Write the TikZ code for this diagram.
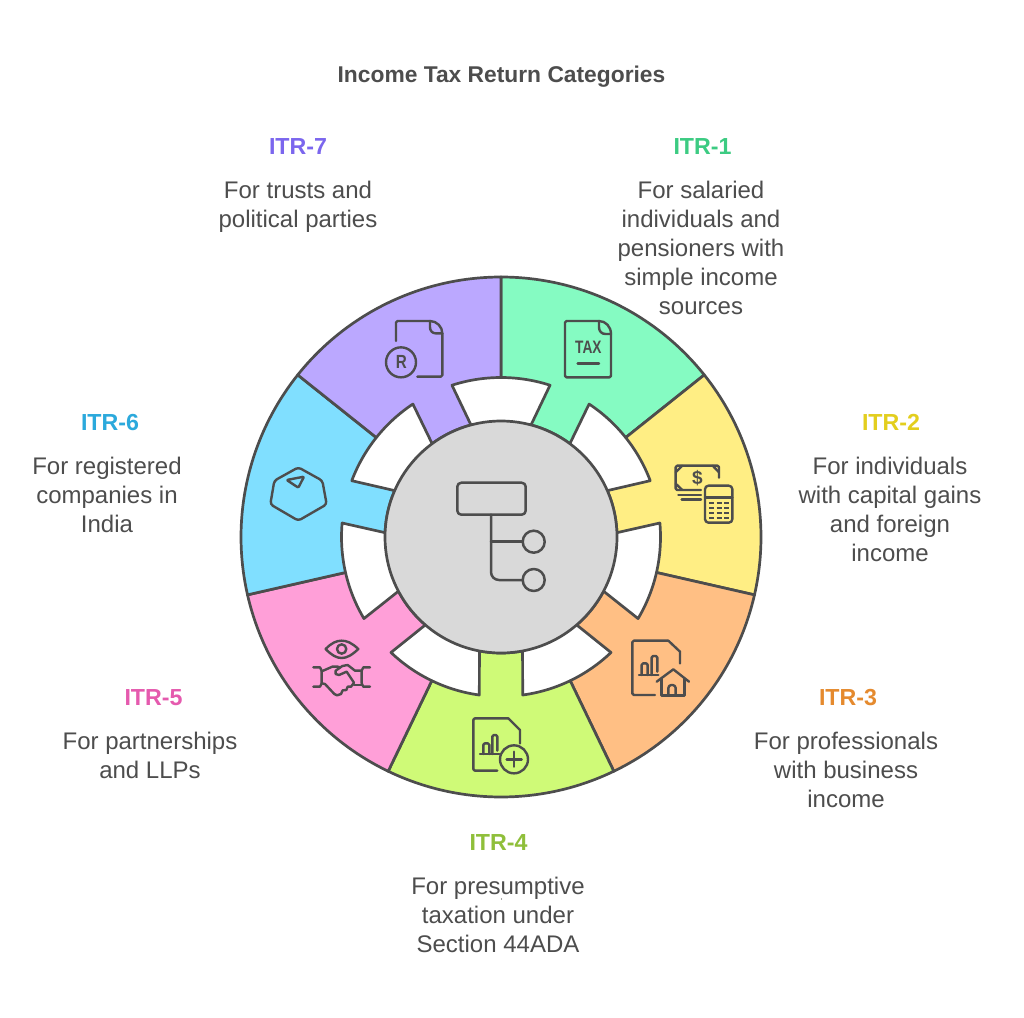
\documentclass[tikz,border=0pt]{standalone}
\usepackage{graphicx}
\usepackage{fontspec}
\setmainfont{Liberation Sans}
\definecolor{ink}{HTML}{4D4D4D}
\definecolor{centre}{HTML}{D9D9D9}
\definecolor{fa}{HTML}{85FBC2}
\definecolor{fb}{HTML}{FFEE84}
\definecolor{fc}{HTML}{FFBF84}
\definecolor{fd}{HTML}{CFFA77}
\definecolor{fe}{HTML}{FF9FD8}
\definecolor{ff}{HTML}{80DFFF}
\definecolor{fg}{HTML}{BBA8FF}
\definecolor{ta}{HTML}{3CCB82}
\definecolor{tb}{HTML}{E3CE1E}
\definecolor{tc}{HTML}{E58A2E}
\definecolor{td}{HTML}{8FBF3A}
\definecolor{te}{HTML}{E55AAE}
\definecolor{tf}{HTML}{2BA9DC}
\definecolor{tg}{HTML}{7B66EE}
\tikzset{
  sector/.style={draw=ink,line width=2.7pt,line join=round},
  icon/.style={draw=ink,line width=2.4pt,line cap=round,line join=round},
  thinicon/.style={draw=ink,line width=1.9pt,line cap=butt},
  desc/.style={text=ink,align=center,inner sep=0pt,font=\fontsize{24}{29}\selectfont},
  head/.style={inner sep=0pt,font=\fontsize{23.2}{29}\selectfont\bfseries},
  glyph/.style={text=ink,inner sep=0pt},
  zoomed/.style={shift={#1},scale=0.33333}
}
\begin{document}
\begin{tikzpicture}[x=1pt,y=-1pt]
\useasboundingbox (0,0) rectangle (1024,1017);
\fill[white] (0,0) rectangle (1024,1017);
\begin{scope}[shift={(501,537)},x=1pt,y=1pt]
  \foreach \i/\c in {0/fa,1/fb,2/fc,3/fd,4/fe,5/ff,6/fg}{
    \pgfmathsetmacro{\aa}{90-\i*51.42857}
    \pgfmathsetmacro{\ab}{90-(\i+1)*51.42857}
    \pgfmathsetmacro{\ac}{\aa-17.9}
    \pgfmathsetmacro{\ad}{\aa-15}
    \pgfmathsetmacro{\ae}{\ab+15}
    \pgfmathsetmacro{\af}{\ab+17.9}
    \draw[sector,fill=\c] (\aa:260) arc[start angle=\aa,end angle=\ab,radius=260]
      -- (\ab:159.5) arc[start angle=\ab,end angle=\af,radius=159.5]
      -- (\ae:116) arc[start angle=\ae,end angle=\ad,radius=116]
      -- (\ac:159.5) arc[start angle=\ac,end angle=\aa,radius=159.5] -- cycle;
  }
  \draw[sector,fill=centre] (0,0) circle[radius=116];
\end{scope}
% centre icon
\draw[icon,line width=2.5pt,rounded corners=4pt] (457.3,482.7) rectangle (525.7,514.7);
\draw[icon,line width=2.5pt,rounded corners=8pt] (491,514.7) -- (491,580) -- (522,580);
\draw[icon,line width=2.5pt] (491,541.7) -- (522,541.7);
\draw[icon,line width=2.5pt] (533.7,541.7) circle[radius=11];
\draw[icon,line width=2.5pt] (533.7,580) circle[radius=11];
% TAX
\begin{scope}[zoomed={(500,270)}]
  \draw[icon,rounded corners=1.5pt] (297,153) -- (195,153) -- (195,322) -- (333,322) -- (333,192);
  \draw[icon] (333,192) .. controls (333,170) and (317,153) .. (297,153);
  \draw[icon] (297,153) -- (297,172) .. controls (297,184) and (305,192) .. (317,192) -- (333,192);
  \draw[icon] (233,281) -- (297,281);
  \node[glyph,font=\fontsize{18}{18}\selectfont\bfseries] (taxword) at (265,233) {\scalebox{0.76}[1]{TAX}};
\end{scope}
% money and calculator
\begin{scope}[zoomed={(665,455)}]
  \draw[icon,rounded corners=1.5pt] (162,68) -- (162,32) -- (32,32) -- (32,105) -- (108,105);
  \draw[icon] (52,32) -- (32,52) (143,32) -- (162,52) (32,86) -- (52,105);
  \draw[icon] (40,120) -- (108,120) (50,134) -- (108,134);
  \node[glyph,font=\fontsize{19}{19}\selectfont\bfseries] (dollar) at (97,68) {\$};
  \draw[icon,rounded corners=3.5pt] (120,92) rectangle (202,203);
  \draw[icon] (120,127) -- (202,127);
  \foreach \yy in {143,158,173,188}{
    \foreach \xx in {132,155,177}{
      \draw[thinicon] (\xx,\yy) -- ++(15,0);
    }
  }
\end{scope}
% document with house
\begin{scope}[zoomed={(625,630)}]
  \draw[icon,rounded corners=1.5pt] (90,195) -- (22,195) -- (22,32) -- (130,32);
  \draw[icon] (130,32) -- (165,65) -- (165,100);
  \draw[icon] (42,135) -- (100,135);
  \draw[icon,rounded corners=1.5pt] (50,135) -- (50,100) -- (68,100) -- (68,135);
  \draw[icon,rounded corners=1.5pt] (80,135) -- (80,78) -- (97,78) -- (97,125);
  \draw[icon] (95,155) -- (145,118) -- (192,155);
  \draw[icon] (110,145) -- (110,197) -- (178,197) -- (178,145);
  \draw[icon,rounded corners=3pt] (130,197) -- (130,165) -- (152,165) -- (152,197);
\end{scope}
% document with plus
\begin{scope}[zoomed={(465,710)}]
  \draw[icon,rounded corners=1.5pt] (97,182) -- (25,182) -- (25,25) -- (130,25);
  \draw[icon] (130,25) -- (165,60) -- (165,100);
  \draw[icon] (45,132) -- (103,132);
  \draw[icon,rounded corners=1.5pt] (55,132) -- (55,100) -- (73,100) -- (73,132);
  \draw[icon,rounded corners=1.5pt] (82,132) -- (82,75) -- (97,75) -- (97,122);
  \draw[icon] (147,148) circle[radius=42];
  \draw[icon] (125,148) -- (170,148) (147,125) -- (147,170);
\end{scope}
% eye and handshake
\begin{scope}[zoomed={(305,630)}]
  \draw[icon] (62,57) .. controls (80,38) and (95,32) .. (110,32) .. controls (125,32) and (140,38) .. (160,57)
     .. controls (140,76) and (125,84) .. (110,84) .. controls (95,84) and (80,76) .. (62,57) -- cycle;
  \draw[icon] (110,57) circle[radius=14];
  \draw[icon] (25,112) -- (45,112) -- (50,122) -- (50,160) -- (45,170) -- (25,170);
  \draw[icon] (195,112) -- (175,112) -- (170,122) -- (170,160) -- (175,170) -- (195,170);
  \draw[icon] (50,124) -- (82,110) -- (98,110) -- (105,112);
  \draw[icon] (170,122) -- (150,122) -- (128,105) -- (112,108) -- (92,122) -- (92,132) -- (102,135) -- (125,125) -- (147,158) -- (138,170) -- (128,170) -- (124,180) -- (113,181) -- (108,192) -- (96,196) -- (88,192) -- (60,162) -- (50,160);
  \draw[icon] (147,165) -- (170,165);
\end{scope}
% hexagon
\begin{scope}[zoomed={(235,270)}]
  \draw[icon,rounded corners=3pt] (190,592) -- (262,632) -- (275,703) -- (190,752) -- (106,703) -- (118,632) -- cycle;
  \draw[icon,rounded corners=1pt] (155,630) -- (207,620) -- (190,653) -- cycle;
\end{scope}
% document with R
\begin{scope}[zoomed={(235,270)}]
  \draw[icon,rounded corners=1.5pt] (483,213) -- (483,153) -- (585,153);
  \draw[icon] (585,153) .. controls (605,153) and (622,170) .. (622,190);
  \draw[icon,rounded corners=1.5pt] (622,190) -- (622,320) -- (547,320);
  \draw[icon] (585,153) -- (585,172) .. controls (585,182) and (592,190) .. (602,190) -- (622,190);
  \draw[icon] (498,277) circle[radius=45];
  \node[glyph,font=\fontsize{19}{19}\selectfont\bfseries] (rupeeR) at (499,276) {\scalebox{0.8}[1]{R}};
\end{scope}
% texts
\node[text=ink,inner sep=0pt,font=\fontsize{22.8}{29}\selectfont\bfseries] (title) at (501.5,76.5) {Income Tax Return Categories};
\node[head,text=ta] (ha) at (702.5,146.7) {ITR-1};
\node[desc] (da) at (701,248) {For salaried\\individuals and\\pensioners with\\simple income\\sources};
\node[head,text=tb] (hb) at (891,422.7) {ITR-2};
\node[desc] (db) at (890,509.5) {For individuals\\with capital gains\\and foreign\\income};
\node[head,text=tc] (hc) at (848,697.7) {ITR-3};
\node[desc] (dc) at (846,770) {For professionals\\with business\\income};
\node[head,text=td] (hd) at (498.5,842.7) {ITR-4};
\node[desc] (dd) at (498,915) {For presumptive\\taxation under\\Section 44ADA};
\node[head,text=te] (he) at (153.5,697.7) {ITR-5};
\node[desc] (de) at (150,755.5) {For partnerships\\and LLPs};
\node[head,text=tf] (hf) at (110,422.7) {ITR-6};
\node[desc] (df) at (107,495) {For registered\\companies in\\India};
\node[head,text=tg] (hg) at (298,146.7) {ITR-7};
\node[desc] (dg) at (298,206.5) {For trusts and\\political parties};
\fill[ink] (501.5,899) circle[radius=0.7];
\end{tikzpicture}
\end{document}
